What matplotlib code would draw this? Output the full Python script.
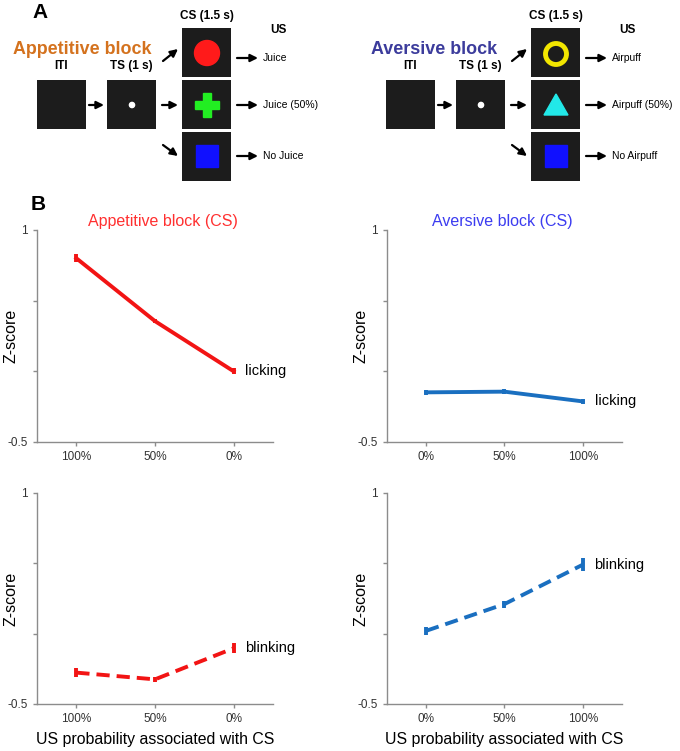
import matplotlib
matplotlib.use("Agg")
import matplotlib.pyplot as plt
from matplotlib.patches import Rectangle, Circle, Polygon
import numpy as np

plt.rcParams['font.family'] = ['Liberation Sans', 'DejaVu Sans']

# datos del panel B
prob_apetitivo = ["100%", "50%", "0%"]
prob_aversivo = ["0%", "50%", "100%"]

lamido_apetitivo = [0.80, 0.355, 0.0]
lamido_apetitivo_err = [0.03, 0.015, 0.02]
lamido_aversivo = [-0.149, -0.144, -0.213]
lamido_aversivo_err = [0.02, 0.02, 0.015]

parpadeo_apetitivo = [-0.277, -0.325, -0.104]
parpadeo_apetitivo_err = [0.03, 0.02, 0.035]
parpadeo_aversivo = [0.02, 0.21, 0.49]
parpadeo_aversivo_err = [0.03, 0.025, 0.045]

# textos del panel A
us_apetitivo = ["Juice", "Juice (50%)", "No Juice"]
us_aversivo = ["Airpuff", "Airpuff (50%)", "No Airpuff"]

ROJO = "#f21414"
AZUL = "#1a6fc0"
NARANJA = "#d4721e"
AZUL_OSCURO = "#3c3c9c"
GRIS = "#8c8c8c"

fig = plt.figure(figsize=(6.8, 7.51), dpi=100)

# ---------- Panel A (esquema), coordenadas en pixeles ----------
esq = fig.add_axes([0, 0, 1, 1])
esq.set_xlim(0, 680)
esq.set_ylim(751, 0)
esq.axis('off')

def flecha(x0, y0, x1, y1):
    esq.annotate("", xy=(x1, y1), xytext=(x0, y0),
                 arrowprops=dict(arrowstyle="-|>", color="black", lw=1.6,
                                 mutation_scale=11, shrinkA=0, shrinkB=0))

def caja(x, y, w=49, h=49):
    esq.add_patch(Rectangle((x, y), w, h, facecolor="#1c1c1c", edgecolor="none"))

def bloque(dx, titulo, color_titulo, xt, us_textos, tipo):
    # ITI y TS
    caja(dx + 37, 80)
    caja(dx + 107, 80)
    esq.text(dx + 61, 72, "ITI", ha="center", va="bottom", fontsize=8.5, fontweight="bold")
    esq.text(dx + 131, 72, "TS (1 s)", ha="center", va="bottom", fontsize=8.5, fontweight="bold")
    esq.add_patch(Circle((dx + 132, 105), 2.6, color="white"))
    # CS
    cx = dx + 182
    for yy in (28, 80, 132):
        caja(cx, yy)
    esq.text(cx + 25, 22, "CS (1.5 s)", ha="center", va="bottom", fontsize=8.5, fontweight="bold")
    esq.text(cx + 96, 36, "US", ha="center", va="bottom", fontsize=8.5, fontweight="bold")
    cc = cx + 25
    if tipo == "apetitivo":
        esq.add_patch(Circle((cc, 53), 12.5, color="#ff1a1a"))
        esq.add_patch(Rectangle((cc - 12, 101), 24, 8, color="#22ee22"))
        esq.add_patch(Rectangle((cc - 4, 93), 8, 24, color="#22ee22"))
    else:
        esq.add_patch(Circle((cc, 54), 10.5, facecolor="none", edgecolor="#f2e600", lw=3.5))
        esq.add_patch(Polygon([(cc - 12, 115), (cc + 12, 115), (cc, 94)], color="#22e8e8"))
    esq.add_patch(Rectangle((cc - 11, 145), 22, 22, color="#1010ff"))
    # flechas
    flecha(dx + 89, 105, dx + 104, 105)
    flecha(dx + 162, 105, dx + 178, 105)
    flecha(dx + 163, 61, dx + 178, 49)
    flecha(dx + 163, 145, dx + 178, 156)
    for yy, txt in zip((58, 105, 156), us_textos):
        flecha(cx + 55, yy, cx + 76, yy)
        esq.text(cx + 81, yy, txt, ha="left", va="center", fontsize=7.5)
    esq.text(xt, 50, titulo, ha="left", va="center", fontsize=12.9,
             fontweight="bold", color=color_titulo)

bloque(0, "Appetitive block", NARANJA, 13, us_apetitivo, "apetitivo")
bloque(349, "Aversive block", AZUL_OSCURO, 371, us_aversivo, "aversivo")

esq.text(40, 13, "A", ha="center", va="center", fontsize=15, fontweight="bold")
esq.text(38, 205, "B", ha="center", va="center", fontsize=15, fontweight="bold")

# ---------- Panel B ----------
def panel(pos, etiquetas, valores, errores, color, estilo, texto, titulo=None,
          color_titulo=None, titulo_x=0.5, xlabel=False):
    ax = fig.add_axes(pos)
    x = np.arange(len(etiquetas))
    ax.errorbar(x, valores, yerr=errores, color=color, lw=2.8, ls=estilo,
                elinewidth=2.8, capsize=0, dashes=(3.4, 1.8) if estilo == "--" else (None, None))
    ax.set_xlim(-0.5, 2.5)
    ax.set_ylim(-0.5, 1)
    ax.set_yticks([-0.5, 0, 0.5, 1])
    ax.set_yticklabels(["-0.5", "", "", "1"])
    ax.set_xticks(x)
    ax.set_xticklabels(etiquetas)
    for lado in ("top", "right"):
        ax.spines[lado].set_visible(False)
    for lado in ("left", "bottom"):
        ax.spines[lado].set_color(GRIS)
        ax.spines[lado].set_linewidth(1.0)
    ax.tick_params(colors=GRIS, labelcolor="#333333", labelsize=8.5, length=3, width=1.0)
    ax.set_ylabel("Z-score", fontsize=11.5, labelpad=-8)
    ax.text(x[-1] + 0.15, valores[-1], texto, ha="left", va="center", fontsize=10.5)
    if titulo:
        ax.set_title(titulo, color=color_titulo, fontsize=11.5, pad=3, x=titulo_x)
    if xlabel:
        ax.set_xlabel("US probability associated with CS", fontsize=11.4, labelpad=5)
    ax.patch.set_alpha(0)
    return ax

arriba = [0.4115, 0.2823]
abajo = [0.0626, 0.281]
panel([0.0544, arriba[0], 0.347, arriba[1]], prob_apetitivo, lamido_apetitivo,
      lamido_apetitivo_err, ROJO, "-", "licking", "Appetitive block (CS)", "#ff3030",
      titulo_x=0.534)
panel([0.569, arriba[0], 0.3456, arriba[1]], prob_aversivo, lamido_aversivo,
      lamido_aversivo_err, AZUL, "-", "licking", "Aversive block (CS)", "#3c3cf0",
      titulo_x=0.49)
panel([0.0544, abajo[0], 0.347, abajo[1]], prob_apetitivo, parpadeo_apetitivo,
      parpadeo_apetitivo_err, ROJO, "--", "blinking", xlabel=True)
panel([0.569, abajo[0], 0.3456, abajo[1]], prob_aversivo, parpadeo_aversivo,
      parpadeo_aversivo_err, AZUL, "--", "blinking", xlabel=True)

fig.savefig("out.png", dpi=100)
